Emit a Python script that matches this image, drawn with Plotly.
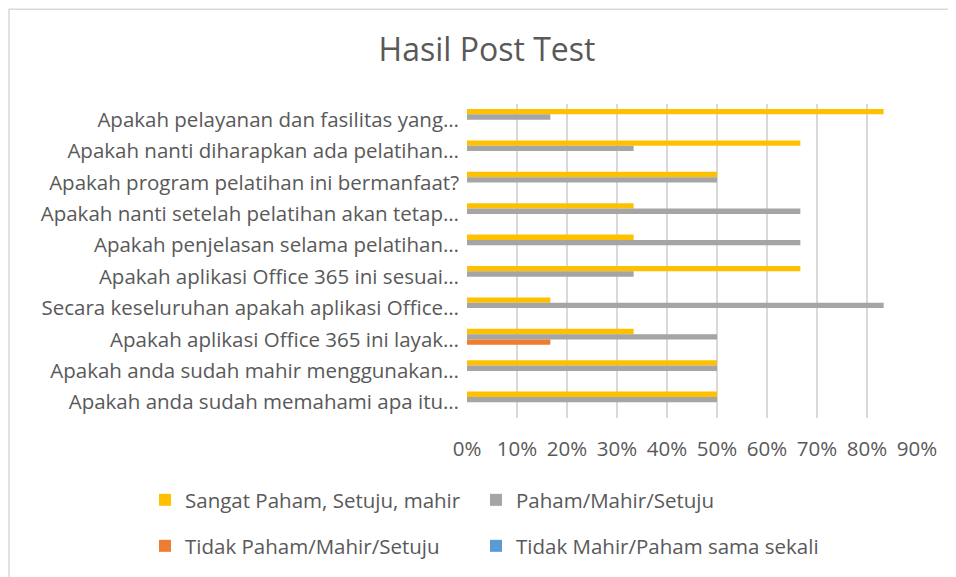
import plotly.graph_objects as go

questions = [
    "Apakah pelayanan dan fasilitas yang…",
    "Apakah nanti diharapkan ada pelatihan…",
    "Apakah program pelatihan ini bermanfaat?",
    "Apakah nanti setelah pelatihan akan tetap…",
    "Apakah penjelasan selama pelatihan…",
    "Apakah aplikasi Office 365 ini sesuai…",
    "Secara keseluruhan apakah aplikasi Office…",
    "Apakah aplikasi Office 365 ini layak…",
    "Apakah anda sudah mahir menggunakan…",
    "Apakah anda sudah memahami apa itu…",
]

sangat_paham = [0.8333, 0.6667, 0.5, 0.3333, 0.3333, 0.6667, 0.1667, 0.3333, 0.5, 0.5]
paham = [0.1667, 0.3333, 0.5, 0.6667, 0.6667, 0.3333, 0.8333, 0.5, 0.5, 0.5]
tidak_paham = [0, 0, 0, 0, 0, 0, 0, 0.1667, 0, 0]
tidak_sama_sekali = [0, 0, 0, 0, 0, 0, 0, 0, 0, 0]

series = [
    ("Sangat Paham, Setuju, mahir", sangat_paham, "#FFC000"),
    ("Paham/Mahir/Setuju", paham, "#A5A5A5"),
    ("Tidak Paham/Mahir/Setuju", tidak_paham, "#ED7D31"),
    ("Tidak Mahir/Paham sama sekali", tidak_sama_sekali, "#5B9BD5"),
]

text_color = "#595959"
font_family = "'Open Sans', sans-serif"
fsize = 20.5

# the page puts the figure 8px in from the window corner
OFF = 8
FW, FH = 956 - OFF, 577 - OFF
# plot area geometry in window pixels
PL, PR, PT, PB = 467, 917, 104, 419
L, T = PL - OFF, PT - OFF
R, B = FW - (PR - OFF), FH - (PB - OFF)
W, H = PR - PL, PB - PT


def px_x(x):
    return (x - PL) / W


def px_y(y):
    return (PB - y) / H


# one legend box per entry, laid out as a 2x2 grid
legend_ids = ["legend", "legend2", "legend3", "legend4"]
legend_pos = [(145, 500), (476, 500), (145, 546), (476, 546)]

fig = go.Figure()
for (name, vals, color), lg in zip(series, legend_ids):
    fig.add_trace(go.Bar(
        y=questions, x=vals, name=name, orientation="h",
        marker=dict(color=color, line=dict(width=0)),
        legend=lg, showlegend=True,
    ))

legends = {}
for lg, (lx, ly) in zip(legend_ids, legend_pos):
    legends[lg] = dict(orientation="h", x=px_x(lx), xanchor="left",
                       y=px_y(ly), yanchor="middle",
                       font=dict(size=fsize, color=text_color))

fig.update_layout(
    width=FW, height=FH,
    showlegend=True,
    margin=dict(l=L, r=R, t=T, b=B, pad=0),
    paper_bgcolor="white", plot_bgcolor="white",
    font=dict(family=font_family, size=fsize, color=text_color),
    title=dict(text="Hasil Post Test", x=(487 - OFF) / FW, xanchor="center",
               y=1 - (50 - OFF) / FH, yanchor="middle",
               font=dict(size=32, color=text_color, family=font_family)),
    barmode="group", bargap=0.32, bargroupgap=0,
    xaxis=dict(range=[0, 0.9], tickvals=[i / 10 for i in range(10)],
               tickformat=".0%", showgrid=True, gridcolor="#D9D9D9",
               gridwidth=1.5, zeroline=False, showline=False,
               ticklabelstandoff=16, fixedrange=True),
    yaxis=dict(autorange="reversed", showgrid=False, showline=False,
               ticks="", ticklabelstandoff=7, fixedrange=True),
    **legends,
)

# outer chart border
fig.add_shape(type="rect", xref="paper", yref="paper",
              x0=px_x(9), x1=px_x(965), y0=px_y(585), y1=px_y(9),
              line=dict(color="#D9D9D9", width=1.5), fillcolor="rgba(0,0,0,0)",
              layer="below")

fig.write_html("out.html")
